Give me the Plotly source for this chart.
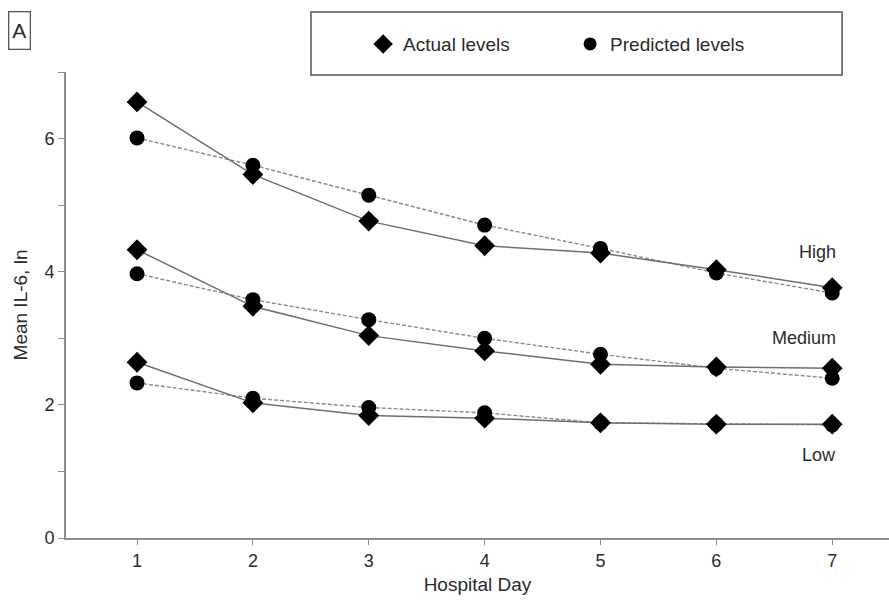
import plotly.graph_objects as go

days = [1, 2, 3, 4, 5, 6, 7]

high_actual = [6.55, 5.46, 4.76, 4.39, 4.28, 4.03, 3.76]
high_predicted = [6.01, 5.60, 5.15, 4.70, 4.35, 3.98, 3.68]
medium_actual = [4.33, 3.48, 3.04, 2.81, 2.61, 2.57, 2.55]
medium_predicted = [3.97, 3.58, 3.28, 3.00, 2.76, 2.55, 2.40]
low_actual = [2.64, 2.03, 1.84, 1.80, 1.73, 1.71, 1.71]
low_predicted = [2.33, 2.10, 1.96, 1.88, 1.73, 1.71, 1.70]

group_labels = ["High", "Medium", "Low"]
group_label_y = [4.30, 3.00, 1.25]

y_tick_vals = [0, 1, 2, 3, 4, 5, 6, 7]
y_tick_text = ["0", "", "2", "", "4", "", "6", ""]

FONT = "Liberation Sans Narrow, Liberation Sans, Arial, sans-serif"
TXT = "#2b2b2b"

fig = go.Figure()

series = [
    (high_actual, high_predicted),
    (medium_actual, medium_predicted),
    (low_actual, low_predicted),
]

for actual, predicted in series:
    fig.add_trace(go.Scatter(
        x=days, y=predicted, mode="lines+markers", showlegend=False,
        line=dict(color="#8a8a8a", width=1.4, dash="4px,2px"),
        marker=dict(symbol="circle", size=15, color="black"),
    ))
    fig.add_trace(go.Scatter(
        x=days, y=actual, mode="lines+markers", showlegend=False,
        line=dict(color="#6e6e6e", width=1.5),
        marker=dict(symbol="diamond", size=16, color="black"),
    ))

# legend entries (markers only)
fig.add_trace(go.Scatter(x=[None], y=[None], mode="markers", name="Actual levels",
                         marker=dict(symbol="diamond", size=15, color="black")))
fig.add_trace(go.Scatter(x=[None], y=[None], mode="markers", name="Predicted levels",
                         marker=dict(symbol="circle", size=13, color="black")))

for label, ly in zip(group_labels, group_label_y):
    fig.add_annotation(x=7.05, y=ly, xref="x", yref="y", text=label, showarrow=False,
                       xanchor="right", yanchor="middle",
                       font=dict(family=FONT, size=18, color=TXT))

# legend frame
fig.add_shape(type="rect", xref="paper", yref="paper",
              x0=0.2977, x1=0.943, y0=0.9936, y1=1.1288,
              line=dict(color="#555555", width=1.5), fillcolor="rgba(0,0,0,0)")

# panel letter
fig.add_annotation(x=-0.0571, y=1.090, xref="paper", yref="paper", text="A", showarrow=False,
                   xanchor="center", yanchor="middle", width=16, height=32,
                   font=dict(family=FONT, size=21, color=TXT),
                   bordercolor="#555555", borderwidth=1.3, borderpad=2)

fig.update_layout(
    width=889, height=608,
    margin=dict(l=66, r=0, t=72, b=70),
    plot_bgcolor="white", paper_bgcolor="white",
    font=dict(family=FONT, size=17, color=TXT),
    legend=dict(orientation="h", x=0.361, y=1.06, xanchor="left", yanchor="middle",
                font=dict(family=FONT, size=19, color=TXT),
                bgcolor="rgba(0,0,0,0)", entrywidth=162, itemsizing="trace"),
    xaxis=dict(range=[0.387, 7.49], tickvals=days, showline=True, linecolor="#8c8c8c",
               linewidth=2, ticks="outside", ticklen=5, tickcolor="#8c8c8c",
               showgrid=False, zeroline=False,
               title=dict(text="Hospital Day", font=dict(family=FONT, size=19, color=TXT), standoff=8),
               tickfont=dict(family=FONT, size=18, color=TXT)),
    yaxis=dict(range=[0, 7], tickvals=y_tick_vals, ticktext=y_tick_text, showline=True,
               linecolor="#8c8c8c", linewidth=2, ticks="outside", ticklen=6, tickcolor="#8c8c8c",
               showgrid=False, zeroline=False,
               title=dict(text="Mean IL-6, ln", font=dict(family=FONT, size=19, color=TXT), standoff=12),
               tickfont=dict(family=FONT, size=18, color=TXT)),
)

fig.write_html("out.html")
